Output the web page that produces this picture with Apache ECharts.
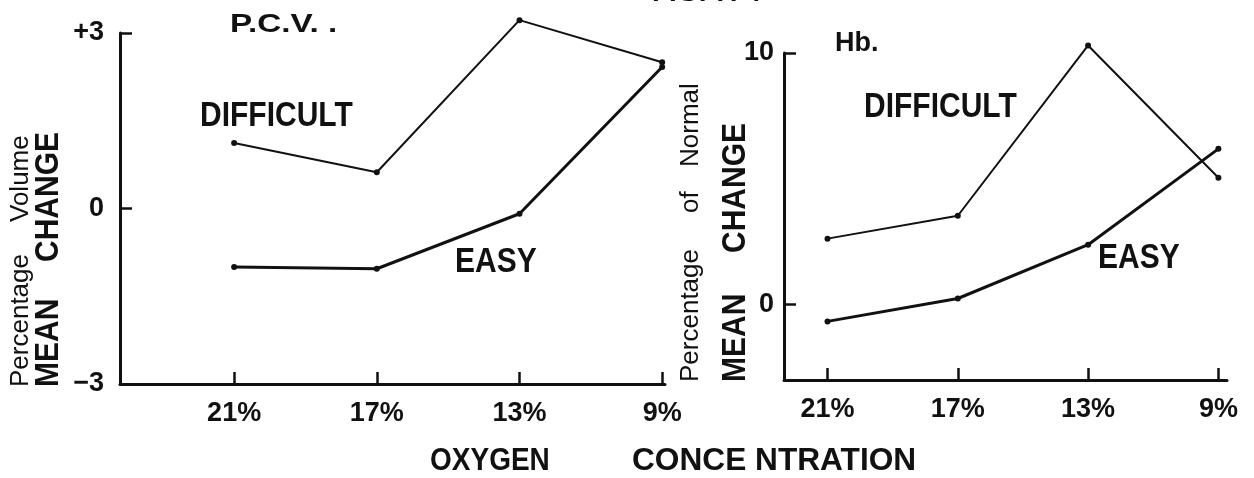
<!DOCTYPE html>
<html>
<head>
<meta charset="utf-8">
<title>Oxygen concentration: P.C.V. and Hb.</title>
<script src="https://cdn.jsdelivr.net/npm/echarts@6/dist/echarts.min.js"></script>
<style>
  html, body { margin: 0; padding: 0; background: #fff; }
  #chart { width: 1254px; height: 478px; }
</style>
</head>
<body>
<div id="chart"></div>
<script>
// Oxygen concentration categories (x axis, both panels)
const oxygenLevels = ['21%', '17%', '13%', '9%'];

// P.C.V. — mean change, percentage volume
const pcvDifficult = [1.12, 0.62, 3.22, 2.50];
const pcvEasy = [-1.00, -1.03, -0.09, 2.42];
const pcvTicks = [-3, 0, 3];

// Hb. — mean change, percentage of normal
const hbDifficult = [2.62, 3.53, 10.30, 5.04];
const hbEasy = [-0.67, 0.24, 2.38, 6.19];
const hbTicks = [0, 10];

const INK = '#111';
const FONT = '"Liberation Sans", Arial, sans-serif';
const catIdx = oxygenLevels.map((_, i) => i);
const pairs = vals => vals.map((v, i) => [i, v]);

function xAxisFor(gridIndex, min, max) {
  return {
    type: 'value', gridIndex, min, max,
    axisLine: { show: true, onZero: false, lineStyle: { color: INK, width: 3 } },
    axisTick: { show: true, inside: true, length: 12, customValues: catIdx, lineStyle: { color: INK, width: 2.5 } },
    axisLabel: {
      customValues: catIdx, margin: 16,
      formatter: v => oxygenLevels[Math.round(v)] ?? '',
      color: INK, fontFamily: FONT, fontSize: 27, fontWeight: 'bold'
    },
    splitLine: { show: false }
  };
}

function yAxisFor(gridIndex, min, max, ticks, fmt, margin) {
  return {
    type: 'value', gridIndex, min, max,
    axisLine: { show: true, onZero: false, lineStyle: { color: INK, width: 3 } },
    axisTick: { show: true, inside: true, length: 12, customValues: ticks, lineStyle: { color: INK, width: 2.5 } },
    axisLabel: {
      customValues: ticks, margin, formatter: fmt,
      color: INK, fontFamily: FONT, fontSize: 27, fontWeight: 'bold',
      padding: [0, 0, 12, 0]
    },
    splitLine: { show: false }
  };
}

function lineSeries(xi, yi, vals, width) {
  return {
    type: 'line', xAxisIndex: xi, yAxisIndex: yi, data: pairs(vals),
    clip: false, symbol: 'circle', symbolSize: 6, silent: true,
    itemStyle: { color: INK },
    lineStyle: { color: INK, width }
  };
}

function txt(text, x, y, size, opts = {}) {
  return {
    type: 'text', x, y, rotation: opts.rotation || 0, silent: true,
    scaleX: opts.sx || 1, scaleY: opts.sy || 1,
    style: {
      text, fill: INK, font: `${opts.weight || 'bold'} ${size}px ${FONT}`,
      textAlign: opts.align || 'left', textVerticalAlign: opts.valign || 'middle'
    }
  };
}
const up = { rotation: Math.PI / 2 };
const thin = Object.assign({ weight: 'normal' }, up);
const tall = { sy: 1.15 };

const chart = echarts.init(document.getElementById('chart'), null, { renderer: 'canvas' });
chart.setOption({
  backgroundColor: '#fff',
  animation: false,
  grid: [
    { left: 120, top: 33, width: 545, height: 351 },
    { left: 784, top: 53, width: 443, height: 327 }
  ],
  xAxis: [xAxisFor(0, -0.8, 3.02), xAxisFor(1, -0.334, 3.066)],
  yAxis: [
    yAxisFor(0, -3, 3, pcvTicks, v => v > 0 ? '+' + v : (v < 0 ? '\u2212' + Math.abs(v) : '0'), 16),
    yAxisFor(1, -3, 10, hbTicks, v => String(v), 10)
  ],
  series: [
    lineSeries(0, 0, pcvDifficult, 2),
    lineSeries(0, 0, pcvEasy, 3),
    lineSeries(1, 1, hbDifficult, 2),
    lineSeries(1, 1, hbEasy, 3)
  ],
  graphic: [
    txt('FIG. 7. 4', 652, 7, 28, { valign: 'bottom' }),
    txt('P.C.V. .', 230, 25, 26, { sx: 1.28 }),
    txt('Hb.', 835, 44, 27),
    txt('DIFFICULT', 200, 116, 30, tall),
    txt('EASY', 455, 262, 30, tall),
    txt('DIFFICULT', 864, 107, 30, tall),
    txt('EASY', 1098, 258, 30, tall),
    // rotated axis titles, left panel
    txt('Percentage', 21, 387, 26, thin),
    txt('Volume', 21, 222, 26, thin),
    txt('MEAN', 49, 387, 30, Object.assign({ sy: 1.1 }, up)),
    txt('CHANGE', 49, 262, 30, Object.assign({ sy: 1.1 }, up)),
    // rotated axis titles, right panel
    txt('Percentage', 691, 382, 26, thin),
    txt('of', 691, 213, 26, thin),
    txt('Normal', 691, 167, 26, thin),
    txt('MEAN', 736, 382, 30, Object.assign({ sy: 1.1 }, up)),
    txt('CHANGE', 736, 253, 30, Object.assign({ sy: 1.1 }, up)),
    // shared x axis title
    txt('OXYGEN', 430, 461, 28, { sy: 1.12 }),
    txt('CONCE NTRATION', 632, 461, 28, { sx: 1.13, sy: 1.12 })
  ]
});
</script>
</body>
</html>
